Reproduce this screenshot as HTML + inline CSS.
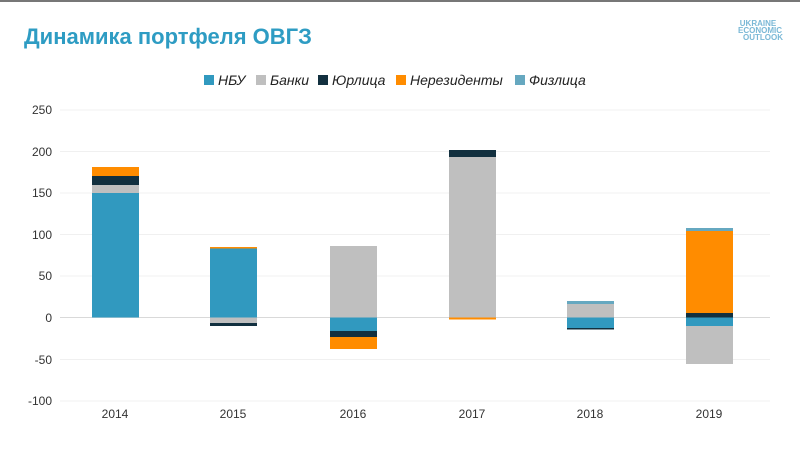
<!DOCTYPE html>
<html><head><meta charset="utf-8"><style>
body{margin:0;background:#fff;font-family:"Liberation Sans",sans-serif}
</style></head><body>
<svg width="800" height="450" xmlns="http://www.w3.org/2000/svg" font-family="Liberation Sans, sans-serif">
<rect width="800" height="450" fill="#fff"/>
<rect width="800" height="2" fill="#777"/>
<text x="24" y="44" font-size="22" font-weight="bold" fill="#2e9cc3">Динамика портфеля ОВГЗ</text>
<g font-size="8" font-weight="bold" fill="#7ab8d6" text-anchor="middle">
<text x="758" y="26">UKRAINE</text><text x="760" y="33">ECONOMIC</text><text x="763" y="40">OUTLOOK</text></g>
<g font-size="14" fill="#222" font-style="italic">
<rect x="204" y="75" width="10" height="10" fill="#3199bf"/><text x="218" y="85">НБУ</text>
<rect x="256" y="75" width="10" height="10" fill="#bfbfbf"/><text x="270" y="85">Банки</text>
<rect x="318" y="75" width="10" height="10" fill="#12303f"/><text x="332" y="85">Юрлица</text>
<rect x="396" y="75" width="10" height="10" fill="#ff8c00"/><text x="410" y="85">Нерезиденты</text>
<rect x="515" y="75" width="10" height="10" fill="#66a8c0"/><text x="529" y="85">Физлица</text></g>
<g stroke="#f0f0f0" stroke-width="1">
<line x1="60" x2="770" y1="110" y2="110"/><line x1="60" x2="770" y1="151.5" y2="151.5"/>
<line x1="60" x2="770" y1="193" y2="193"/><line x1="60" x2="770" y1="234.5" y2="234.5"/>
<line x1="60" x2="770" y1="276" y2="276"/><line x1="60" x2="770" y1="359.5" y2="359.5"/>
<line x1="60" x2="770" y1="401" y2="401"/></g>
<line x1="60" x2="770" y1="317.5" y2="317.5" stroke="#d9d9d9"/>
<g font-size="12" fill="#333" text-anchor="end">
<text x="52" y="114">250</text><text x="52" y="156">200</text><text x="52" y="197">150</text>
<text x="52" y="239">100</text><text x="52" y="280">50</text><text x="52" y="322">0</text>
<text x="52" y="364">-50</text><text x="52" y="405">-100</text></g>
<g font-size="12" fill="#333" text-anchor="middle">
<text x="115" y="418">2014</text><text x="233" y="418">2015</text><text x="353" y="418">2016</text>
<text x="472" y="418">2017</text><text x="590" y="418">2018</text><text x="709" y="418">2019</text></g>
<rect x="92" y="193" width="47" height="124.5" fill="#3199bf"/>
<rect x="92" y="185" width="47" height="8" fill="#bfbfbf"/>
<rect x="92" y="176" width="47" height="9" fill="#12303f"/>
<rect x="92" y="167" width="47" height="9" fill="#ff8c00"/>
<rect x="210" y="248" width="47" height="69.5" fill="#3199bf"/>
<rect x="210" y="247" width="47" height="1.5" fill="#ff8c00"/>
<rect x="210" y="317.5" width="47" height="5.5" fill="#bfbfbf"/>
<rect x="210" y="323" width="47" height="3" fill="#12303f"/>
<rect x="330" y="246" width="47" height="71.5" fill="#bfbfbf"/>
<rect x="330" y="317.5" width="47" height="13.5" fill="#3199bf"/>
<rect x="330" y="331" width="47" height="6" fill="#12303f"/>
<rect x="330" y="337" width="47" height="12" fill="#ff8c00"/>
<rect x="449" y="157" width="47" height="160.5" fill="#bfbfbf"/>
<rect x="449" y="150" width="47" height="7" fill="#12303f"/>
<rect x="449" y="317.5" width="47" height="2" fill="#ff8c00"/>
<rect x="567" y="304" width="47" height="13.5" fill="#bfbfbf"/>
<rect x="567" y="301" width="47" height="3" fill="#66a8c0"/>
<rect x="567" y="317.5" width="47" height="10.5" fill="#3199bf"/>
<rect x="567" y="328" width="47" height="1.5" fill="#12303f"/>
<rect x="686" y="228" width="47" height="3" fill="#66a8c0"/>
<rect x="686" y="231" width="47" height="82" fill="#ff8c00"/>
<rect x="686" y="313" width="47" height="4.5" fill="#12303f"/>
<rect x="686" y="317.5" width="47" height="8.5" fill="#3199bf"/>
<rect x="686" y="326" width="47" height="38" fill="#bfbfbf"/>
</svg>
</body></html>
